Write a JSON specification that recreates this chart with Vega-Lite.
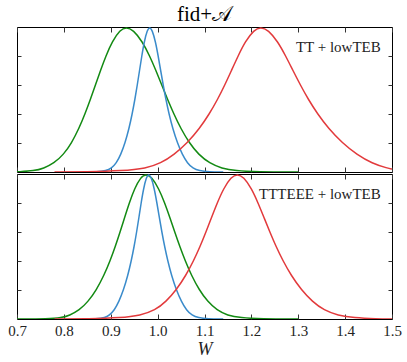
{
  "$schema": "https://vega.github.io/schema/vega-lite/v6.json",
  "padding": {"left": 7, "right": 7, "top": 4, "bottom": 0},
  "autosize": {"type": "pad"},
  "title": {"text": "fid+𝒜", "font": "Liberation Serif, DejaVu Serif, DejaVu Sans", "fontSize": 21, "fontWeight": "normal", "color": "#000", "offset": 1, "anchor": "middle"},
  "spacing": 0,
  "datasets": {
    "top": [
      {"s":"g","x":0.700,"y":0.001},{"s":"g","x":0.7372,"y":0.008},{"s":"g","x":0.7565,"y":0.025},{"s":"g","x":0.7788,"y":0.06},{"s":"g","x":0.7992,"y":0.12},{"s":"g","x":0.8164,"y":0.2},{"s":"g","x":0.8321,"y":0.3},{"s":"g","x":0.8450,"y":0.4},{"s":"g","x":0.8565,"y":0.5},{"s":"g","x":0.8673,"y":0.6},{"s":"g","x":0.8781,"y":0.7},{"s":"g","x":0.8896,"y":0.8},{"s":"g","x":0.9032,"y":0.9},{"s":"g","x":0.9199,"y":0.98},{"s":"g","x":0.933,"y":1},{"s":"g","x":0.9481,"y":0.98},{"s":"g","x":0.9674,"y":0.9},{"s":"g","x":0.9831,"y":0.8},{"s":"g","x":0.9964,"y":0.7},{"s":"g","x":1.0088,"y":0.6},{"s":"g","x":1.0213,"y":0.5},{"s":"g","x":1.0346,"y":0.4},{"s":"g","x":1.0494,"y":0.3},{"s":"g","x":1.0676,"y":0.2},{"s":"g","x":1.0874,"y":0.12},{"s":"g","x":1.1109,"y":0.06},{"s":"g","x":1.1367,"y":0.025},{"s":"g","x":1.1661,"y":0.008},{"s":"g","x":1.2118,"y":0.001},{"s":"g","x":1.30,"y":0},
      {"s":"b","x":0.84,"y":0},{"s":"b","x":0.8715,"y":0.001},{"s":"b","x":0.8898,"y":0.008},{"s":"b","x":0.9015,"y":0.025},{"s":"b","x":0.9118,"y":0.06},{"s":"b","x":0.9214,"y":0.12},{"s":"b","x":0.9305,"y":0.2},{"s":"b","x":0.9390,"y":0.3},{"s":"b","x":0.9457,"y":0.4},{"s":"b","x":0.9515,"y":0.5},{"s":"b","x":0.9566,"y":0.6},{"s":"b","x":0.9614,"y":0.7},{"s":"b","x":0.9662,"y":0.8},{"s":"b","x":0.9715,"y":0.9},{"s":"b","x":0.9780,"y":0.98},{"s":"b","x":0.983,"y":1},{"s":"b","x":0.9884,"y":0.98},{"s":"b","x":0.9954,"y":0.9},{"s":"b","x":1.0012,"y":0.8},{"s":"b","x":1.0065,"y":0.7},{"s":"b","x":1.0118,"y":0.6},{"s":"b","x":1.0177,"y":0.5},{"s":"b","x":1.0243,"y":0.4},{"s":"b","x":1.0322,"y":0.3},{"s":"b","x":1.0422,"y":0.2},{"s":"b","x":1.0527,"y":0.12},{"s":"b","x":1.0637,"y":0.06},{"s":"b","x":1.0753,"y":0.025},{"s":"b","x":1.0887,"y":0.008},{"s":"b","x":1.1094,"y":0.001},{"s":"b","x":1.14,"y":0},
      {"s":"r","x":0.78,"y":0},{"s":"r","x":0.8483,"y":0.001},{"s":"r","x":0.9247,"y":0.008},{"s":"r","x":0.9756,"y":0.025},{"s":"r","x":1.0065,"y":0.06},{"s":"r","x":1.0354,"y":0.12},{"s":"r","x":1.0632,"y":0.2},{"s":"r","x":1.0894,"y":0.3},{"s":"r","x":1.1102,"y":0.4},{"s":"r","x":1.1279,"y":0.5},{"s":"r","x":1.1433,"y":0.6},{"s":"r","x":1.1575,"y":0.7},{"s":"r","x":1.1716,"y":0.8},{"s":"r","x":1.1870,"y":0.9},{"s":"r","x":1.2055,"y":0.98},{"s":"r","x":1.220,"y":1},{"s":"r","x":1.2359,"y":0.98},{"s":"r","x":1.2563,"y":0.9},{"s":"r","x":1.2732,"y":0.8},{"s":"r","x":1.2887,"y":0.7},{"s":"r","x":1.3045,"y":0.6},{"s":"r","x":1.3216,"y":0.5},{"s":"r","x":1.3413,"y":0.4},{"s":"r","x":1.3646,"y":0.3},{"s":"r","x":1.3940,"y":0.2},{"s":"r","x":1.4251,"y":0.12},{"s":"r","x":1.4572,"y":0.06},{"s":"r","x":1.4916,"y":0.025},{"s":"r","x":1.5,"y":0.02}
    ],
    "bottom": [
      {"s":"g","x":0.70,"y":0},{"s":"g","x":0.7669,"y":0.001},{"s":"g","x":0.7947,"y":0.008},{"s":"g","x":0.8120,"y":0.025},{"s":"g","x":0.8327,"y":0.06},{"s":"g","x":0.8517,"y":0.12},{"s":"g","x":0.8692,"y":0.2},{"s":"g","x":0.8854,"y":0.3},{"s":"g","x":0.8985,"y":0.4},{"s":"g","x":0.9097,"y":0.5},{"s":"g","x":0.9199,"y":0.6},{"s":"g","x":0.9296,"y":0.7},{"s":"g","x":0.9395,"y":0.8},{"s":"g","x":0.9507,"y":0.9},{"s":"g","x":0.9643,"y":0.98},{"s":"g","x":0.975,"y":1},{"s":"g","x":0.9871,"y":0.98},{"s":"g","x":1.0025,"y":0.9},{"s":"g","x":1.0152,"y":0.8},{"s":"g","x":1.0261,"y":0.7},{"s":"g","x":1.0365,"y":0.6},{"s":"g","x":1.0473,"y":0.5},{"s":"g","x":1.0590,"y":0.4},{"s":"g","x":1.0723,"y":0.3},{"s":"g","x":1.0888,"y":0.2},{"s":"g","x":1.1066,"y":0.12},{"s":"g","x":1.1268,"y":0.06},{"s":"g","x":1.1488,"y":0.025},{"s":"g","x":1.1770,"y":0.008},{"s":"g","x":1.2203,"y":0.001},{"s":"g","x":1.30,"y":0},
      {"s":"b","x":0.84,"y":0},{"s":"b","x":0.8695,"y":0.001},{"s":"b","x":0.8878,"y":0.008},{"s":"b","x":0.8968,"y":0.025},{"s":"b","x":0.9075,"y":0.06},{"s":"b","x":0.9174,"y":0.12},{"s":"b","x":0.9272,"y":0.2},{"s":"b","x":0.9364,"y":0.3},{"s":"b","x":0.9437,"y":0.4},{"s":"b","x":0.9499,"y":0.5},{"s":"b","x":0.9552,"y":0.6},{"s":"b","x":0.9601,"y":0.7},{"s":"b","x":0.9648,"y":0.8},{"s":"b","x":0.9700,"y":0.9},{"s":"b","x":0.9762,"y":0.98},{"s":"b","x":0.981,"y":1},{"s":"b","x":0.9862,"y":0.98},{"s":"b","x":0.9929,"y":0.9},{"s":"b","x":0.9985,"y":0.8},{"s":"b","x":1.0037,"y":0.7},{"s":"b","x":1.0090,"y":0.6},{"s":"b","x":1.0149,"y":0.5},{"s":"b","x":1.0217,"y":0.4},{"s":"b","x":1.0297,"y":0.3},{"s":"b","x":1.0399,"y":0.2},{"s":"b","x":1.0507,"y":0.12},{"s":"b","x":1.0617,"y":0.06},{"s":"b","x":1.0733,"y":0.025},{"s":"b","x":1.0867,"y":0.008},{"s":"b","x":1.1074,"y":0.001},{"s":"b","x":1.14,"y":0},
      {"s":"r","x":0.78,"y":0},{"s":"r","x":0.8541,"y":0.001},{"s":"r","x":0.9214,"y":0.008},{"s":"r","x":0.9636,"y":0.025},{"s":"r","x":0.9945,"y":0.06},{"s":"r","x":1.0180,"y":0.12},{"s":"r","x":1.0398,"y":0.2},{"s":"r","x":1.0602,"y":0.3},{"s":"r","x":1.0765,"y":0.4},{"s":"r","x":1.0906,"y":0.5},{"s":"r","x":1.1031,"y":0.6},{"s":"r","x":1.1150,"y":0.7},{"s":"r","x":1.1271,"y":0.8},{"s":"r","x":1.1406,"y":0.9},{"s":"r","x":1.1571,"y":0.98},{"s":"r","x":1.170,"y":1},{"s":"r","x":1.1833,"y":0.98},{"s":"r","x":1.2003,"y":0.9},{"s":"r","x":1.2143,"y":0.8},{"s":"r","x":1.2269,"y":0.7},{"s":"r","x":1.2394,"y":0.6},{"s":"r","x":1.2526,"y":0.5},{"s":"r","x":1.2676,"y":0.4},{"s":"r","x":1.2850,"y":0.3},{"s":"r","x":1.3068,"y":0.2},{"s":"r","x":1.3301,"y":0.12},{"s":"r","x":1.3550,"y":0.06},{"s":"r","x":1.3846,"y":0.025},{"s":"r","x":1.4186,"y":0.008},{"s":"r","x":1.4674,"y":0.001},{"s":"r","x":1.50,"y":0}
    ]
  },
  "vconcat": [
    {
      "width": 375, "height": 145,
      "layer": [
        {
          "data": {"name": "top"},
          "mark": {"type": "line", "interpolate": "basis", "strokeWidth": 1.5, "clip": true},
          "encoding": {
            "x": {"field": "x", "type": "quantitative", "scale": {"domain": [0.7, 1.5], "nice": false, "zero": false},
                  "axis": {"orient": "bottom", "labels": false, "title": null, "tickSize": -5, "values": [0.7,0.8,0.9,1.0,1.1,1.2,1.3,1.4,1.5]}},
            "y": {"field": "y", "type": "quantitative", "scale": {"domain": [0, 1], "nice": false},
                  "axis": {"orient": "left", "labels": false, "title": null, "tickSize": -4, "values": [0.2,0.4,0.6,0.8]}},
            "color": {"field": "s", "type": "nominal", "scale": {"domain": ["g","b","r"], "range": ["#138a13","#3a8bcb","#e23a3c"]}, "legend": null}
          }
        },
        {
          "data": {"values": [{"x": 1.476, "y": 0.86, "t": "TT + lowTEB"}]},
          "mark": {"type": "text", "align": "right", "baseline": "middle", "font": "Liberation Serif", "fontSize": 15, "color": "#222"},
          "encoding": {
            "x": {"field": "x", "type": "quantitative", "axis": {"orient": "top", "labels": false, "title": null, "tickSize": -5, "values": [0.7,0.8,0.9,1.0,1.1,1.2,1.3,1.4,1.5]}},
            "y": {"field": "y", "type": "quantitative", "axis": {"orient": "right", "labels": false, "title": null, "tickSize": -4, "values": [0.2,0.4,0.6,0.8]}},
            "text": {"field": "t"}
          }
        }
      ],
      "resolve": {"axis": {"x": "independent", "y": "independent"}}
    },
    {
      "width": 375, "height": 145,
      "layer": [
        {
          "data": {"name": "bottom"},
          "mark": {"type": "line", "interpolate": "basis", "strokeWidth": 1.5, "clip": true},
          "encoding": {
            "x": {"field": "x", "type": "quantitative", "scale": {"domain": [0.7, 1.5], "nice": false, "zero": false},
                  "axis": {"orient": "bottom", "labels": true, "format": ".1f", "labelFont": "Liberation Serif", "labelFontSize": 15, "labelColor": "#222", "labelPadding": 9, "labelFlush": false, "labelOverlap": false, "tickSize": -5, "values": [0.7,0.8,0.9,1.0,1.1,1.2,1.3,1.4,1.5],
                           "title": "W", "titleFont": "Liberation Serif", "titleFontStyle": "italic", "titleFontWeight": "normal", "titleFontSize": 18, "titleColor": "#222", "titlePadding": 2}},
            "y": {"field": "y", "type": "quantitative", "scale": {"domain": [0, 1], "nice": false},
                  "axis": {"orient": "left", "labels": false, "title": null, "tickSize": -4, "values": [0.2,0.4,0.6,0.8]}},
            "color": {"field": "s", "type": "nominal", "scale": {"domain": ["g","b","r"], "range": ["#138a13","#3a8bcb","#e23a3c"]}, "legend": null}
          }
        },
        {
          "data": {"values": [{"x": 1.476, "y": 0.86, "t": "TTTEEE + lowTEB"}]},
          "mark": {"type": "text", "align": "right", "baseline": "middle", "font": "Liberation Serif", "fontSize": 15, "color": "#222"},
          "encoding": {
            "x": {"field": "x", "type": "quantitative", "axis": {"orient": "top", "labels": false, "title": null, "tickSize": -5, "values": [0.7,0.8,0.9,1.0,1.1,1.2,1.3,1.4,1.5]}},
            "y": {"field": "y", "type": "quantitative", "axis": {"orient": "right", "labels": false, "title": null, "tickSize": -4, "values": [0.2,0.4,0.6,0.8]}},
            "text": {"field": "t"}
          }
        }
      ],
      "resolve": {"axis": {"x": "independent", "y": "independent"}}
    }
  ],
  "config": {
    "view": {"stroke": "#000", "strokeWidth": 1},
    "axis": {"grid": false, "domain": false, "minExtent": 0, "tickColor": "#333", "tickWidth": 1}
  }
}
